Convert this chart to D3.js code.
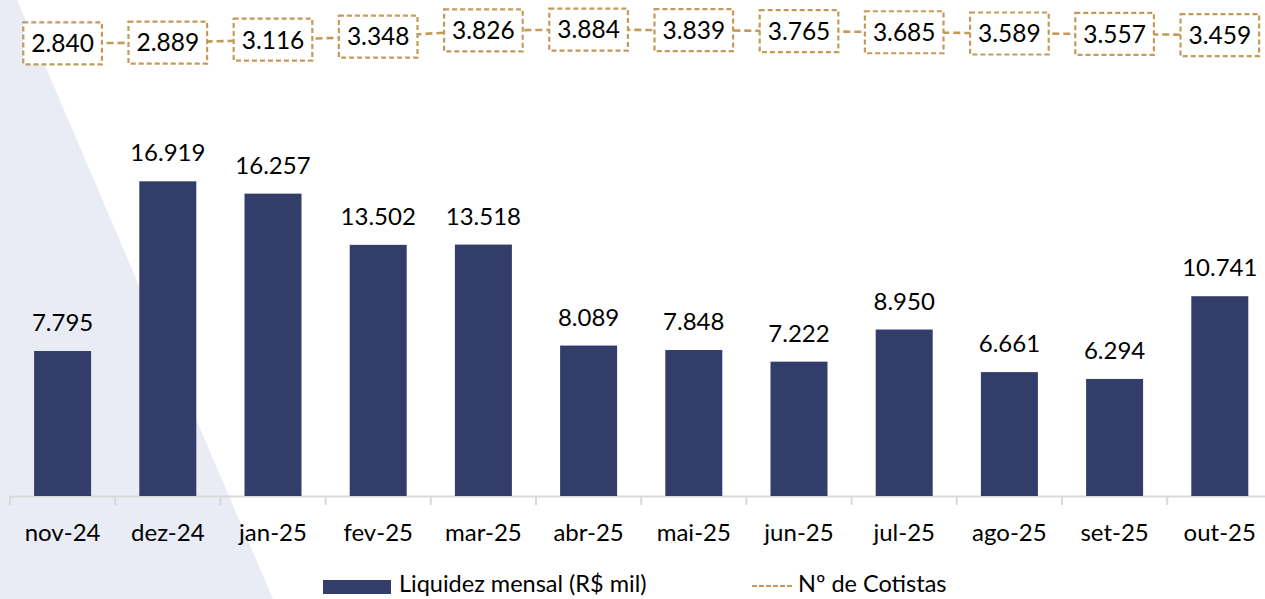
<!DOCTYPE html>
<html>
<head>
<meta charset="utf-8">
<script src="https://cdn.jsdelivr.net/npm/d3@7"></script>
<style>
  body { margin: 0; background: #fff; }
  svg { display: block; font-family: Lato, "Open Sans", sans-serif; }
</style>
</head>
<body>
<svg id="chart" width="1265" height="599"></svg>
<script>
// chart data
var months = ["nov-24","dez-24","jan-25","fev-25","mar-25","abr-25","mai-25","jun-25","jul-25","ago-25","set-25","out-25"];
var liquidez = [7.795,16.919,16.257,13.502,13.518,8.089,7.848,7.222,8.950,6.661,6.294,10.741];
var cotistas = [2.840,2.889,3.116,3.348,3.826,3.884,3.839,3.765,3.685,3.589,3.557,3.459];
var legendNames = ["Liquidez mensal (R$ mil)", "Nº de Cotistas"];

var barColor = "#333d6a";
var lineColor = "#c39a58";
var fmt = function(v){ return v.toFixed(3); };

var svg = d3.select("#chart");
var W = 1265, H = 599;

// light background wedge
svg.append("polygon")
    .attr("points", "0,0 17,0 273,599 0,599")
    .attr("fill", "#e9ecf5");

var x = d3.scaleBand().domain(months).range([10, 10 + 105.2*12]).padding(0);
var barW = 57;
var y = d3.scaleLinear().domain([0, 18]).range([496, 496 - 18*18.6]);
var y2 = d3.scaleLinear().domain([2.5, 4.0]).range([80.5 - 13.1*2.5, 80.5 - 13.1*4.0]);

// axis
var axisG = svg.append("g");
axisG.append("line")
    .attr("x1", 10).attr("x2", W).attr("y1", 496.5).attr("y2", 496.5)
    .attr("stroke", "#d9d9d9").attr("stroke-width", 2);
axisG.selectAll("line.tick")
    .data(months)
    .enter().append("line")
    .attr("class", "tick")
    .attr("x1", function(d){ return x(d); })
    .attr("x2", function(d){ return x(d); })
    .attr("y1", 496).attr("y2", 505)
    .attr("stroke", "#d9d9d9").attr("stroke-width", 2);
axisG.selectAll("text")
    .data(months)
    .enter().append("text")
    .attr("x", function(d){ return x(d) + x.bandwidth()/2; })
    .attr("y", 541)
    .attr("text-anchor", "middle")
    .attr("font-size", 24)
    .attr("fill", "#000")
    .text(function(d){ return d; });

// bars
svg.selectAll("rect.bar")
    .data(liquidez)
    .enter().append("rect")
    .attr("class", "bar")
    .attr("x", function(d,i){ return x(months[i]) + x.bandwidth()/2 - barW/2; })
    .attr("width", barW)
    .attr("y", function(d){ return y(d); })
    .attr("height", function(d){ return y(0) - y(d); })
    .attr("fill", barColor);

svg.selectAll("text.barlbl")
    .data(liquidez)
    .enter().append("text")
    .attr("class", "barlbl")
    .attr("x", function(d,i){ return x(months[i]) + x.bandwidth()/2; })
    .attr("y", function(d){ return y(d) - 20; })
    .attr("text-anchor", "middle")
    .attr("font-size", 24)
    .attr("fill", "#000")
    .text(fmt);

// cotistas line
var line = d3.line()
    .x(function(d,i){ return x(months[i]) + x.bandwidth()/2; })
    .y(function(d){ return y2(d); });
svg.append("path")
    .datum(cotistas)
    .attr("d", line)
    .attr("fill", "none")
    .attr("stroke", lineColor)
    .attr("stroke-width", 2.6)
    .attr("stroke-dasharray", "7,4");

var boxes = svg.selectAll("g.box")
    .data(cotistas)
    .enter().append("g")
    .attr("class", "box")
    .attr("transform", function(d,i){
        return "translate(" + (x(months[i]) + x.bandwidth()/2) + "," + y2(d) + ")";
    });
boxes.append("rect")
    .attr("fill", "#fff")
    .attr("stroke", lineColor)
    .attr("stroke-width", 2.2)
    .attr("stroke-dasharray", "5,3");
boxes.append("text")
    .attr("text-anchor", "middle")
    .attr("dy", "0.36em")
    .attr("font-size", 24.5)
    .attr("fill", "#000")
    .text(fmt);
boxes.each(function(){
    var g = d3.select(this);
    var w = g.select("text").node().getComputedTextLength() + 16;
    g.select("rect").attr("x", -w/2).attr("y", -21).attr("width", w).attr("height", 42);
});

// legend
var leg = svg.append("g");
leg.append("rect")
    .attr("x", 323).attr("y", 580).attr("width", 68).attr("height", 14)
    .attr("fill", barColor);
leg.append("text")
    .attr("x", 399).attr("y", 592)
    .attr("font-size", 23.5).attr("fill", "#000")
    .text(legendNames[0]);
leg.append("line")
    .attr("x1", 752).attr("x2", 793).attr("y1", 586).attr("y2", 586)
    .attr("stroke", lineColor).attr("stroke-width", 2.2)
    .attr("stroke-dasharray", "5,2");
leg.append("text")
    .attr("x", 798).attr("y", 592)
    .attr("font-size", 23.5).attr("fill", "#000")
    .text(legendNames[1]);
</script>
</body>
</html>
